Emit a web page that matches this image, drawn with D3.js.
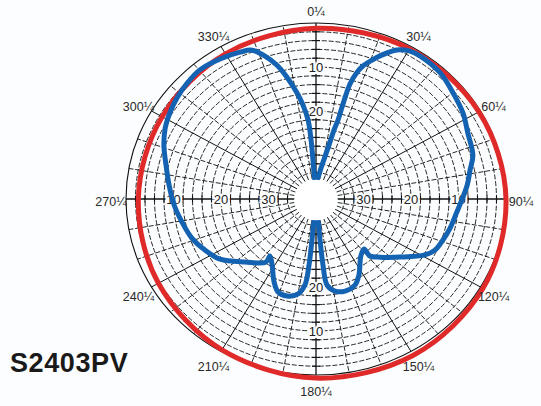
<!DOCTYPE html>
<html><head><meta charset="utf-8">
<script src="https://cdn.jsdelivr.net/npm/d3@7"></script>
<style>html,body{margin:0;padding:0;background:#fcfdfe;} svg{display:block;}</style>
</head><body>
<svg id="c" width="541" height="406"></svg>
<script>
// ---- data ----
const angleTicks  = [0, 30, 60, 90, 120, 150, 180, 210, 240, 270, 300, 330];
const angleLabels = ["0¼","30¼","60¼","90¼","120¼","150¼","180¼","210¼","240¼","270¼","300¼","330¼"];
const ringLabelValues = [10, 20, 30];
const ringLabels = ["10", "20", "30"];
const title = "S2403PV";

// measured antenna pattern (angle in degrees, attenuation in dB), traced in order
const blueAngles = [0, 9.3, 12.3, 13.6, 14.5, 14.7, 15.3, 16.7, 18.1, 20.5, 22.5, 26.7, 30.5, 33.9, 42.4, 50.1, 57.7, 64.9, 73.2, 78.5, 84.3, 90.4, 95.7, 103.2, 109.2, 114.9, 119.0, 126.7, 134.4, 138.8, 138.3, 143.8, 152.4, 157.2, 163.7, 169.2, 173.2, 174.4, 174.8, 175.4, 180,
  184.6, 185.2, 185.6, 186.8, 189.9, 195.5, 200.7, 205.1, 211.7, 216.8, 216.3, 226.2, 235.9, 243.6, 251.2, 259.5, 267.4, 275.9, 283.7, 291.0, 296.9, 302.7, 308.1, 314.1, 320.2, 327.6, 334.4, 338.3, 341.7, 344.9, 347.5, 350.6, 352.7, 354.7, 355.6, 355.9, 357.3];
const blueDb = [36, 32.2, 28.1, 23.9, 21.4, 18.4, 12.9, 9.9, 8.2, 6.3, 4.8, 2.1, 1.0, 0.8, 1.2, 2.4, 3.4, 4.7, 5.5, 6.9, 8.0, 9.3, 10.2, 11.0, 11.7, 12.4, 13.8, 17.9, 21.1, 22.8, 24.8, 24.0, 20.5, 18.8, 18.2, 18.7, 20.3, 24.9, 30.6, 34.8, 36,
  34.8, 30.6, 24.9, 20.3, 18.1, 17.1, 17.4, 19.2, 22.4, 23.8, 22.2, 19.3, 15.6, 13.9, 12.4, 11.3, 10.1, 8.9, 7.5, 5.7, 4.4, 3.5, 2.8, 2.2, 1.8, 2.3, 3.0, 3.6, 5.8, 8.5, 11.6, 15.6, 18.5, 22.0, 26.6, 31.1, 35.7];

// reference circle
const redAngles = [0, 30, 60, 90, 120, 150, 180, 210, 240, 270, 300, 330];
const redDb     = [1.2, 0.6, 0.4, 0.0, -0.6, -1.0, -0.7, 0.4, 1.7, 2.6, 2.6, 1.9];

// ---- layout ----
const cx = 316, cy = 199, RX = 190, RY = 176;
const svg = d3.select("#c");
const ang = d3.scaleLinear().domain([0, 360]).range([0, 2 * Math.PI]);
const rX = d3.scaleLinear().domain([40, 0]).range([0, RX]);
const rY = d3.scaleLinear().domain([40, 0]).range([0, RY]);
const px = (a, db) => cx + rX(db) * Math.sin(ang(a));
const py = (a, db) => cy - rY(db) * Math.cos(ang(a));

const grid = svg.append("g").attr("stroke", "#111").attr("fill", "none");
const holeDb = 35.4;

// rings every 2 dB
const rings = d3.range(2, 35, 2);
grid.selectAll("ellipse.ring").data(rings).join("ellipse")
  .attr("cx", cx).attr("cy", cy)
  .attr("rx", d => rX(d)).attr("ry", d => rY(d))
  .attr("stroke-width", 0.9).attr("stroke-dasharray", "5,1.8");

// spokes every 10 deg
const spokes = d3.range(0, 360, 10).filter(a => a % 90 !== 0);
grid.selectAll("line.spoke").data(spokes).join("line")
  .attr("x1", a => px(a, holeDb)).attr("y1", a => py(a, holeDb))
  .attr("x2", a => px(a, 0)).attr("y2", a => py(a, 0))
  .attr("stroke-width", a => a % 30 === 0 ? 1 : 0.9)
  .attr("stroke-dasharray", a => a % 30 === 0 ? null : "5,1.8");

// outer ring
grid.append("ellipse").attr("cx", cx).attr("cy", cy).attr("rx", rX(0)).attr("ry", rY(0)).attr("stroke-width", 1.1);

// main axes
[0, 90].forEach(a => {
  grid.append("line")
    .attr("x1", px(a, 0)).attr("y1", py(a, 0))
    .attr("x2", px(a + 180, 0)).attr("y2", py(a + 180, 0))
    .attr("stroke-width", 1.3);
});
// axis ticks every 2 dB
const tickDb = d3.range(2, 35, 2);
[90, 270].forEach(a => {
  grid.selectAll(null).data(tickDb).join("line")
    .attr("x1", d => px(a, d)).attr("x2", d => px(a, d))
    .attr("y1", d => py(a, d) - 3.5).attr("y2", d => py(a, d) + 3.5)
    .attr("stroke-width", 1.1);
});
[0, 180].forEach(a => {
  grid.selectAll(null).data(tickDb).join("line")
    .attr("y1", d => py(a, d)).attr("y2", d => py(a, d))
    .attr("x1", d => px(a, d) - 4).attr("x2", d => px(a, d) + 4)
    .attr("stroke-width", 1.1);
});

// ring labels
const ringLabelSpots = [];
[90, 270].forEach(a => ringLabelValues.forEach((v, i) => ringLabelSpots.push({a, v, t: ringLabels[i]})));
[0, 180].forEach(a => ringLabelValues.slice(0, 2).forEach((v, i) => ringLabelSpots.push({a, v, t: ringLabels[i]})));
svg.append("g").selectAll("text").data(ringLabelSpots).join("text")
  .attr("x", d => px(d.a, d.v)).attr("y", d => py(d.a, d.v))
  .attr("text-anchor", "middle").attr("dominant-baseline", "central")
  .attr("font-family", "Liberation Sans, Arial, sans-serif").attr("font-size", 13)
  .attr("fill", "#222").attr("stroke", "#fcfdfe").attr("stroke-width", 4)
  .attr("paint-order", "stroke")
  .text(d => d.t);

// red reference
const lineXY = d3.line().curve(d3.curveCardinalClosed.tension(0))
  .x(d => px(d.a, d.db)).y(d => py(d.a, d.db));
const redData = redAngles.map((a, i) => ({a, db: redDb[i]}));
svg.append("path").datum(redData).attr("d", lineXY)
  .attr("fill", "none").attr("stroke", "#e02a2a").attr("stroke-width", 5);

// blue pattern
const blueLine = d3.line().curve(d3.curveCatmullRomClosed.alpha(0.5))
  .x(d => px(d.a, d.db)).y(d => py(d.a, d.db));
const blueData = blueAngles.map((a, i) => ({a, db: blueDb[i]}));
svg.append("path").datum(blueData).attr("d", blueLine)
  .attr("fill", "none").attr("stroke", "#1463b3").attr("stroke-width", 5)
  .attr("stroke-linejoin", "round");

// center hole
svg.append("ellipse").attr("cx", cx).attr("cy", cy + 1)
  .attr("rx", rX(holeDb)).attr("ry", rY(holeDb)).attr("fill", "#ffffff");

// angle labels
const LRX = 205, LRY = 190, ly0 = cy + 3;
svg.append("g").selectAll("text").data(angleTicks).join("text")
  .attr("x", (a) => cx + LRX * Math.sin(ang(a)))
  .attr("y", (a) => ly0 - LRY * Math.cos(ang(a)))
  .attr("text-anchor", "middle").attr("dominant-baseline", "central")
  .attr("font-family", "Liberation Sans, Arial, sans-serif").attr("font-size", 12.5)
  .attr("fill", "#2a2a2a")
  .text((a, i) => angleLabels[i]);

// title
svg.append("text").attr("x", 10).attr("y", 372)
  .attr("font-family", "Liberation Sans, Arial, sans-serif").attr("font-weight", "bold")
  .attr("font-size", 27).attr("fill", "#1a1a1a").attr("letter-spacing", 0.6)
  .text(title);
</script>
</body></html>
